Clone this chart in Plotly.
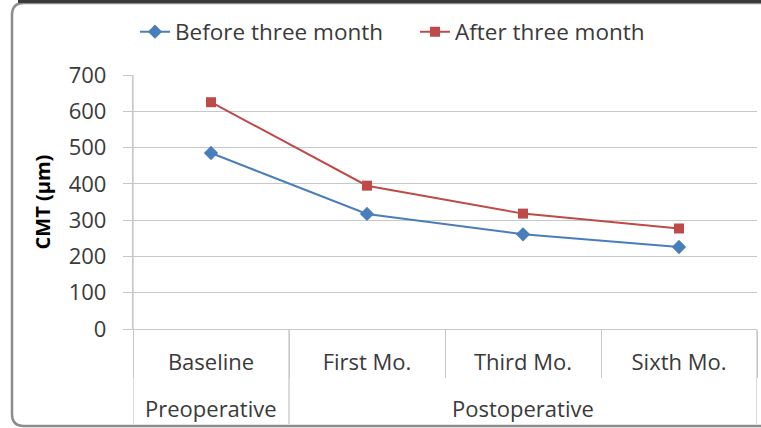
import plotly.graph_objects as go

categories = ["Baseline", "First Mo.", "Third Mo.", "Sixth Mo."]
groups = ["Preoperative", "Postoperative"]
group_centers = [0, 2]
before = [485, 317, 261, 226]
after = [625, 395, 318, 277]
series_names = ["Before three month", "After three month"]
y_ticks = [0, 100, 200, 300, 400, 500, 600, 700]

FONT = "Open Sans"
TXT = "#3a3a3a"
GRID = "#c8c8c8"
FS = 22

fig = go.Figure()
fig.add_trace(go.Scatter(
    x=categories, y=before, name=series_names[0], mode="lines+markers",
    line=dict(color="#4a7ebb", width=2),
    marker=dict(symbol="diamond", size=11, color="#4a7ebb"),
))
fig.add_trace(go.Scatter(
    x=categories, y=after, name=series_names[1], mode="lines+markers",
    line=dict(color="#be4b48", width=2),
    marker=dict(symbol="square", size=10, color="#be4b48"),
))

# plot-area geometry in px (for paper conversions of decorations)
L, R, T, B = 133, 757, 75, 329
W, H = R - L, B - T
def px(xp): return (xp - L) / W
def py(yp): return (B - yp) / H

shapes = []
for xb in [-0.5, 0.5, 3.5]:
    shapes.append(dict(type="line", xref="x", yref="paper", x0=xb, x1=xb,
                       y0=py(424), y1=0 if xb != -0.5 else 1,
                       line=dict(color=GRID, width=1.3), layer="above"))
x0, x1, y0, y1 = px(12), px(775), py(426), py(3)
rx, ry = 12 / W, 12 / H
path = (f"M {x0+rx},{y1} L {x1},{y1} L {x1},{y0} L {x0+rx},{y0} "
        f"Q {x0},{y0} {x0},{y0+ry} L {x0},{y1-ry} Q {x0},{y1} {x0+rx},{y1} Z")
shapes.append(dict(type="path", xref="paper", yref="paper", path=path,
                   line=dict(color="#8c8c8c", width=2.5), layer="below"))
shapes.append(dict(type="line", xref="paper", yref="paper", x0=px(18), x1=px(775),
                   y0=py(1.5), y1=py(1.5), line=dict(color="#3a3a3a", width=3)))

annotations = []
for g, c in zip(groups, group_centers):
    annotations.append(dict(text=g, x=c, xref="x", y=py(408), yref="paper",
                            showarrow=False, xanchor="center", yanchor="middle",
                            font=dict(family=FONT, size=FS, color=TXT)))

fig.update_layout(
    width=761, height=428,
    margin=dict(l=L, r=761 - R, t=T, b=428 - B, autoexpand=False),
    paper_bgcolor="white", plot_bgcolor="white",
    font=dict(family=FONT, size=FS, color=TXT),
    showlegend=True,
    legend=dict(orientation="h", x=px(135), xanchor="left", y=py(32), yanchor="middle",
                font=dict(family=FONT, size=22.5, color=TXT), itemwidth=30,
                entrywidth=235, entrywidthmode="pixels",
                bgcolor="rgba(0,0,0,0)", traceorder="normal"),
    xaxis=dict(type="category", range=[-0.5, 3.5], showgrid=False, zeroline=False,
               automargin=False,
               showline=True, linecolor=GRID, linewidth=1.3,
               ticks="outside", tickson="boundaries", ticklen=48, tickcolor=GRID,
               tickwidth=1.3, ticklabelstandoff=13,
               tickfont=dict(family=FONT, size=FS, color=TXT)),
    yaxis=dict(range=[0, 700], tickvals=y_ticks, showgrid=True, gridcolor=GRID,
               automargin=False,
               gridwidth=1.3, zeroline=False, showline=True, linecolor=GRID,
               linewidth=1.3, ticks="outside", ticklen=9, tickcolor=GRID, tickwidth=1.3,
               ticklabelstandoff=12,
               tickfont=dict(family=FONT, size=FS, color=TXT),
               title=dict(text="<b>CMT (μm)</b>", standoff=12,
                          font=dict(family=FONT, size=20, color="black"))),
    shapes=shapes, annotations=annotations,
)
fig.write_html("out.html", config={"displayModeBar": False},
               post_script="document.body.style.margin='0';document.body.style.overflow='hidden';")
